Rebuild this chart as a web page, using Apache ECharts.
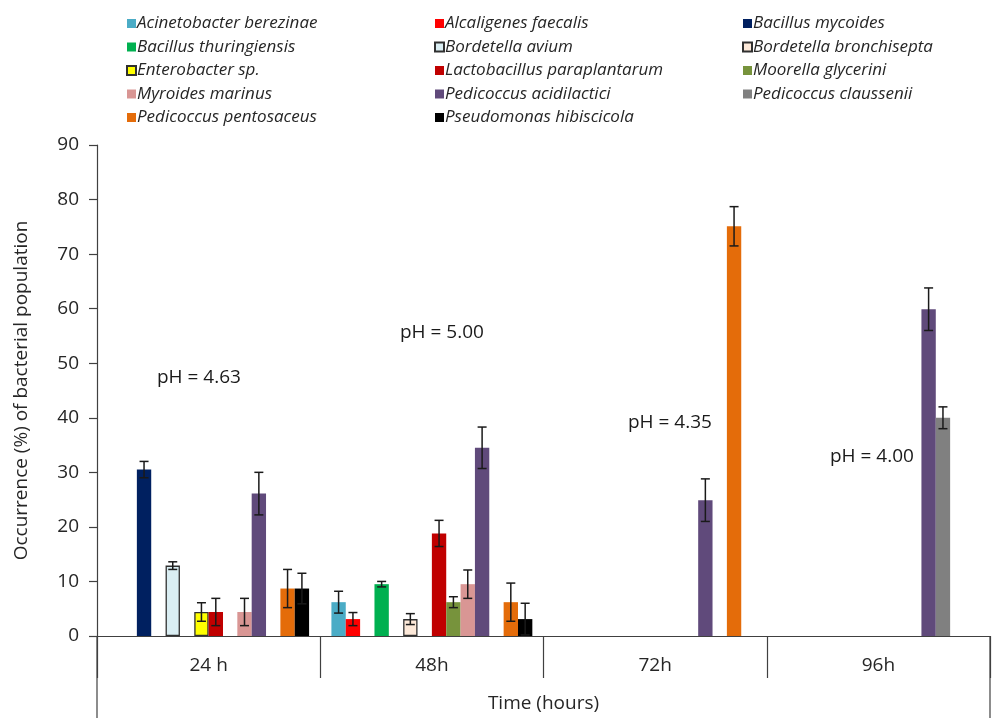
<!DOCTYPE html>
<html>
<head>
<meta charset="utf-8">
<script src="https://cdn.jsdelivr.net/npm/echarts@6/dist/echarts.min.js"></script>
<style>html,body{margin:0;padding:0;background:#fff}#c{width:1000px;height:724px}</style>
</head>
<body>
<div id="c"></div>
<script>
// ---- data ----
const categories = ['24 h', '48h', '72h', '96h'];
const seriesNames = [
  'Acinetobacter berezinae', 'Alcaligenes faecalis', 'Bacillus mycoides',
  'Bacillus thuringiensis', 'Bordetella avium', 'Bordetella bronchisepta',
  'Enterobacter sp.', 'Lactobacillus paraplantarum', 'Moorella glycerini',
  'Myroides marinus', 'Pedicoccus acidilactici', 'Pedicoccus claussenii',
  'Pedicoccus pentosaceus', 'Pseudomonas hibiscicola'
];
const acinetobacter = [null, 6.2, null, null];
const alcaligenes = [null, 3.1, null, null];
const bacillusMycoides = [30.5, null, null, null];
const bacillusThuringiensis = [null, 9.5, null, null];
const bordetellaAvium = [12.9, null, null, null];
const bordetellaBronch = [null, 3.1, null, null];
const enterobacter = [4.4, null, null, null];
const lactobacillus = [4.4, 18.8, null, null];
const moorella = [null, 6.2, null, null];
const myroides = [4.4, 9.5, null, null];
const pAcidilactici = [26.1, 34.5, 24.9, 59.9];
const pClaussenii = [null, null, null, 40.0];
const pPentosaceus = [8.7, 6.2, 75.1, null];
const pseudomonas = [8.7, 3.1, null, null];

const errAcinetobacter = [0, 2.0, 0, 0];
const errAlcaligenes = [0, 1.2, 0, 0];
const errBacillusMycoides = [1.5, 0, 0, 0];
const errBacillusThuringiensis = [0, 0.5, 0, 0];
const errBordetellaAvium = [0.7, 0, 0, 0];
const errBordetellaBronch = [0, 1.0, 0, 0];
const errEnterobacter = [1.7, 0, 0, 0];
const errLactobacillus = [2.5, 2.4, 0, 0];
const errMoorella = [0, 1.0, 0, 0];
const errMyroides = [2.5, 2.6, 0, 0];
const errPAcidilactici = [3.9, 3.8, 3.9, 3.9];
const errPClaussenii = [0, 0, 0, 2.0];
const errPPentosaceus = [3.5, 3.5, 3.6, 0];
const errPseudomonas = [2.8, 2.9, 0, 0];

const yTicks = [0, 10, 20, 30, 40, 50, 60, 70, 80, 90];
const phLabels = ['pH = 4.63', 'pH = 5.00', 'pH = 4.35', 'pH = 4.00'];

const values = [acinetobacter, alcaligenes, bacillusMycoides, bacillusThuringiensis,
  bordetellaAvium, bordetellaBronch, enterobacter, lactobacillus, moorella, myroides,
  pAcidilactici, pClaussenii, pPentosaceus, pseudomonas];
const errors = [errAcinetobacter, errAlcaligenes, errBacillusMycoides, errBacillusThuringiensis,
  errBordetellaAvium, errBordetellaBronch, errEnterobacter, errLactobacillus, errMoorella, errMyroides,
  errPAcidilactici, errPClaussenii, errPPentosaceus, errPseudomonas];

// ---- styles ----
const colors = ['#4BACC6', '#FF0000', '#002060', '#00B050', '#DAEEF3', '#FDE9D9',
  '#FFFF00', '#C00000', '#77933C', '#D99694', '#604A7B', '#808080', '#E46C0A', '#000000'];
const outlined = [4, 5, 6];
const CAT_GAP = 0.10;
const N = seriesNames.length;
const FONT = '"Open Sans", sans-serif';
const TXT = '#262626';

const chart = echarts.init(document.getElementById('c'), null, {renderer: 'canvas'});

const barSeries = seriesNames.map((name, i) => ({
  name: name,
  type: 'bar',
  data: values[i],
  barGap: 0,
  barCategoryGap: (CAT_GAP * 100) + '%',
  itemStyle: {
    color: colors[i],
    borderColor: outlined.includes(i) ? '#303030' : colors[i],
    borderWidth: outlined.includes(i) ? 1.3 : 0
  },
  emphasis: {disabled: true},
  animation: false
}));

const errData = [];
values.forEach((arr, s) => arr.forEach((v, c) => {
  if (v !== null) errData.push([c, v, errors[s][c], s]);
}));

const errSeries = {
  type: 'custom',
  name: 'errors',
  data: errData,
  z: 10,
  animation: false,
  renderItem: function (params, api) {
    const c = api.value(0), v = api.value(1), e = api.value(2), s = api.value(3);
    const band = api.size([1, 0])[0];
    const bw = band * (1 - CAT_GAP) / N;
    const center = api.coord([c, v]);
    const x = center[0] - band * (1 - CAT_GAP) / 2 + (s + 0.5) * bw;
    const yTop = api.coord([c, v + e])[1];
    const yBot = api.coord([c, v - e])[1];
    const cap = 4.5;
    const st = {stroke: '#1a1a1a', lineWidth: 1.5};
    return {
      type: 'group',
      children: [
        {type: 'line', shape: {x1: x, y1: yTop, x2: x, y2: yBot}, style: st},
        {type: 'line', shape: {x1: x - cap, y1: yTop, x2: x + cap, y2: yTop}, style: st},
        {type: 'line', shape: {x1: x - cap, y1: yBot, x2: x + cap, y2: yBot}, style: st}
      ]
    };
  }
};

const legendCols = [[0, 3, 6, 9, 12], [1, 4, 7, 10, 13], [2, 5, 8, 11]];
const legendLeft = [121, 429, 737];
const legends = legendCols.map((col, k) => ({
  orient: 'vertical',
  left: legendLeft[k],
  top: 10,
  itemWidth: 9,
  itemHeight: 9,
  itemGap: 6.5,
  icon: 'rect',
  selectedMode: false,
  data: col.map(i => seriesNames[i]),
  textStyle: {fontFamily: FONT, fontStyle: 'italic', fontSize: 17, color: TXT, lineHeight: 17, padding: [0, 0, 0, -4]}
}));

const phPos = [[157, 380], [400, 335], [628, 425], [830, 459]];

const option = {
  backgroundColor: '#fff',
  animation: false,
  legend: legends,
  grid: {left: 97, right: 10, top: 145, bottom: 88, containLabel: false},
  xAxis: {
    type: 'category',
    data: categories,
    axisLine: {lineStyle: {color: '#404040', width: 1.2}},
    axisTick: {show: true, length: 42, interval: 0, lineStyle: {color: '#404040', width: 1.2}},
    axisLabel: {fontFamily: FONT, fontSize: 19, color: TXT, margin: 20},
    name: 'Time (hours)',
    nameLocation: 'middle',
    nameGap: 58,
    nameTextStyle: {fontFamily: FONT, fontSize: 19, color: TXT}
  },
  yAxis: {
    type: 'value',
    min: 0, max: 90, interval: 10,
    splitLine: {show: false},
    axisLine: {show: true, lineStyle: {color: '#404040', width: 1.2}},
    axisTick: {show: true, length: 8, lineStyle: {color: '#404040', width: 1.2}},
    axisLabel: {fontFamily: FONT, fontSize: 19, color: TXT, margin: 18,
      formatter: v => yTicks.includes(v) ? String(v) : ''},
    name: 'Occurrence (%) of bacterial population',
    nameLocation: 'middle',
    nameGap: 66,
    nameTextStyle: {fontFamily: FONT, fontSize: 19, color: TXT}
  },
  graphic: [
    {type: 'line', shape: {x1: 97, y1: 636, x2: 97, y2: 718}, style: {stroke: '#404040', lineWidth: 1.2}},
    {type: 'line', shape: {x1: 990, y1: 636, x2: 990, y2: 718}, style: {stroke: '#404040', lineWidth: 1.2}}
  ].concat(phLabels.map((t, i) => ({
    type: 'text', left: phPos[i][0], top: phPos[i][1] - 12,
    style: {text: t, font: '19px ' + FONT, fill: '#1a1a1a'}
  }))),
  series: barSeries.concat([errSeries])
};
chart.setOption(option);
</script>
</body>
</html>
